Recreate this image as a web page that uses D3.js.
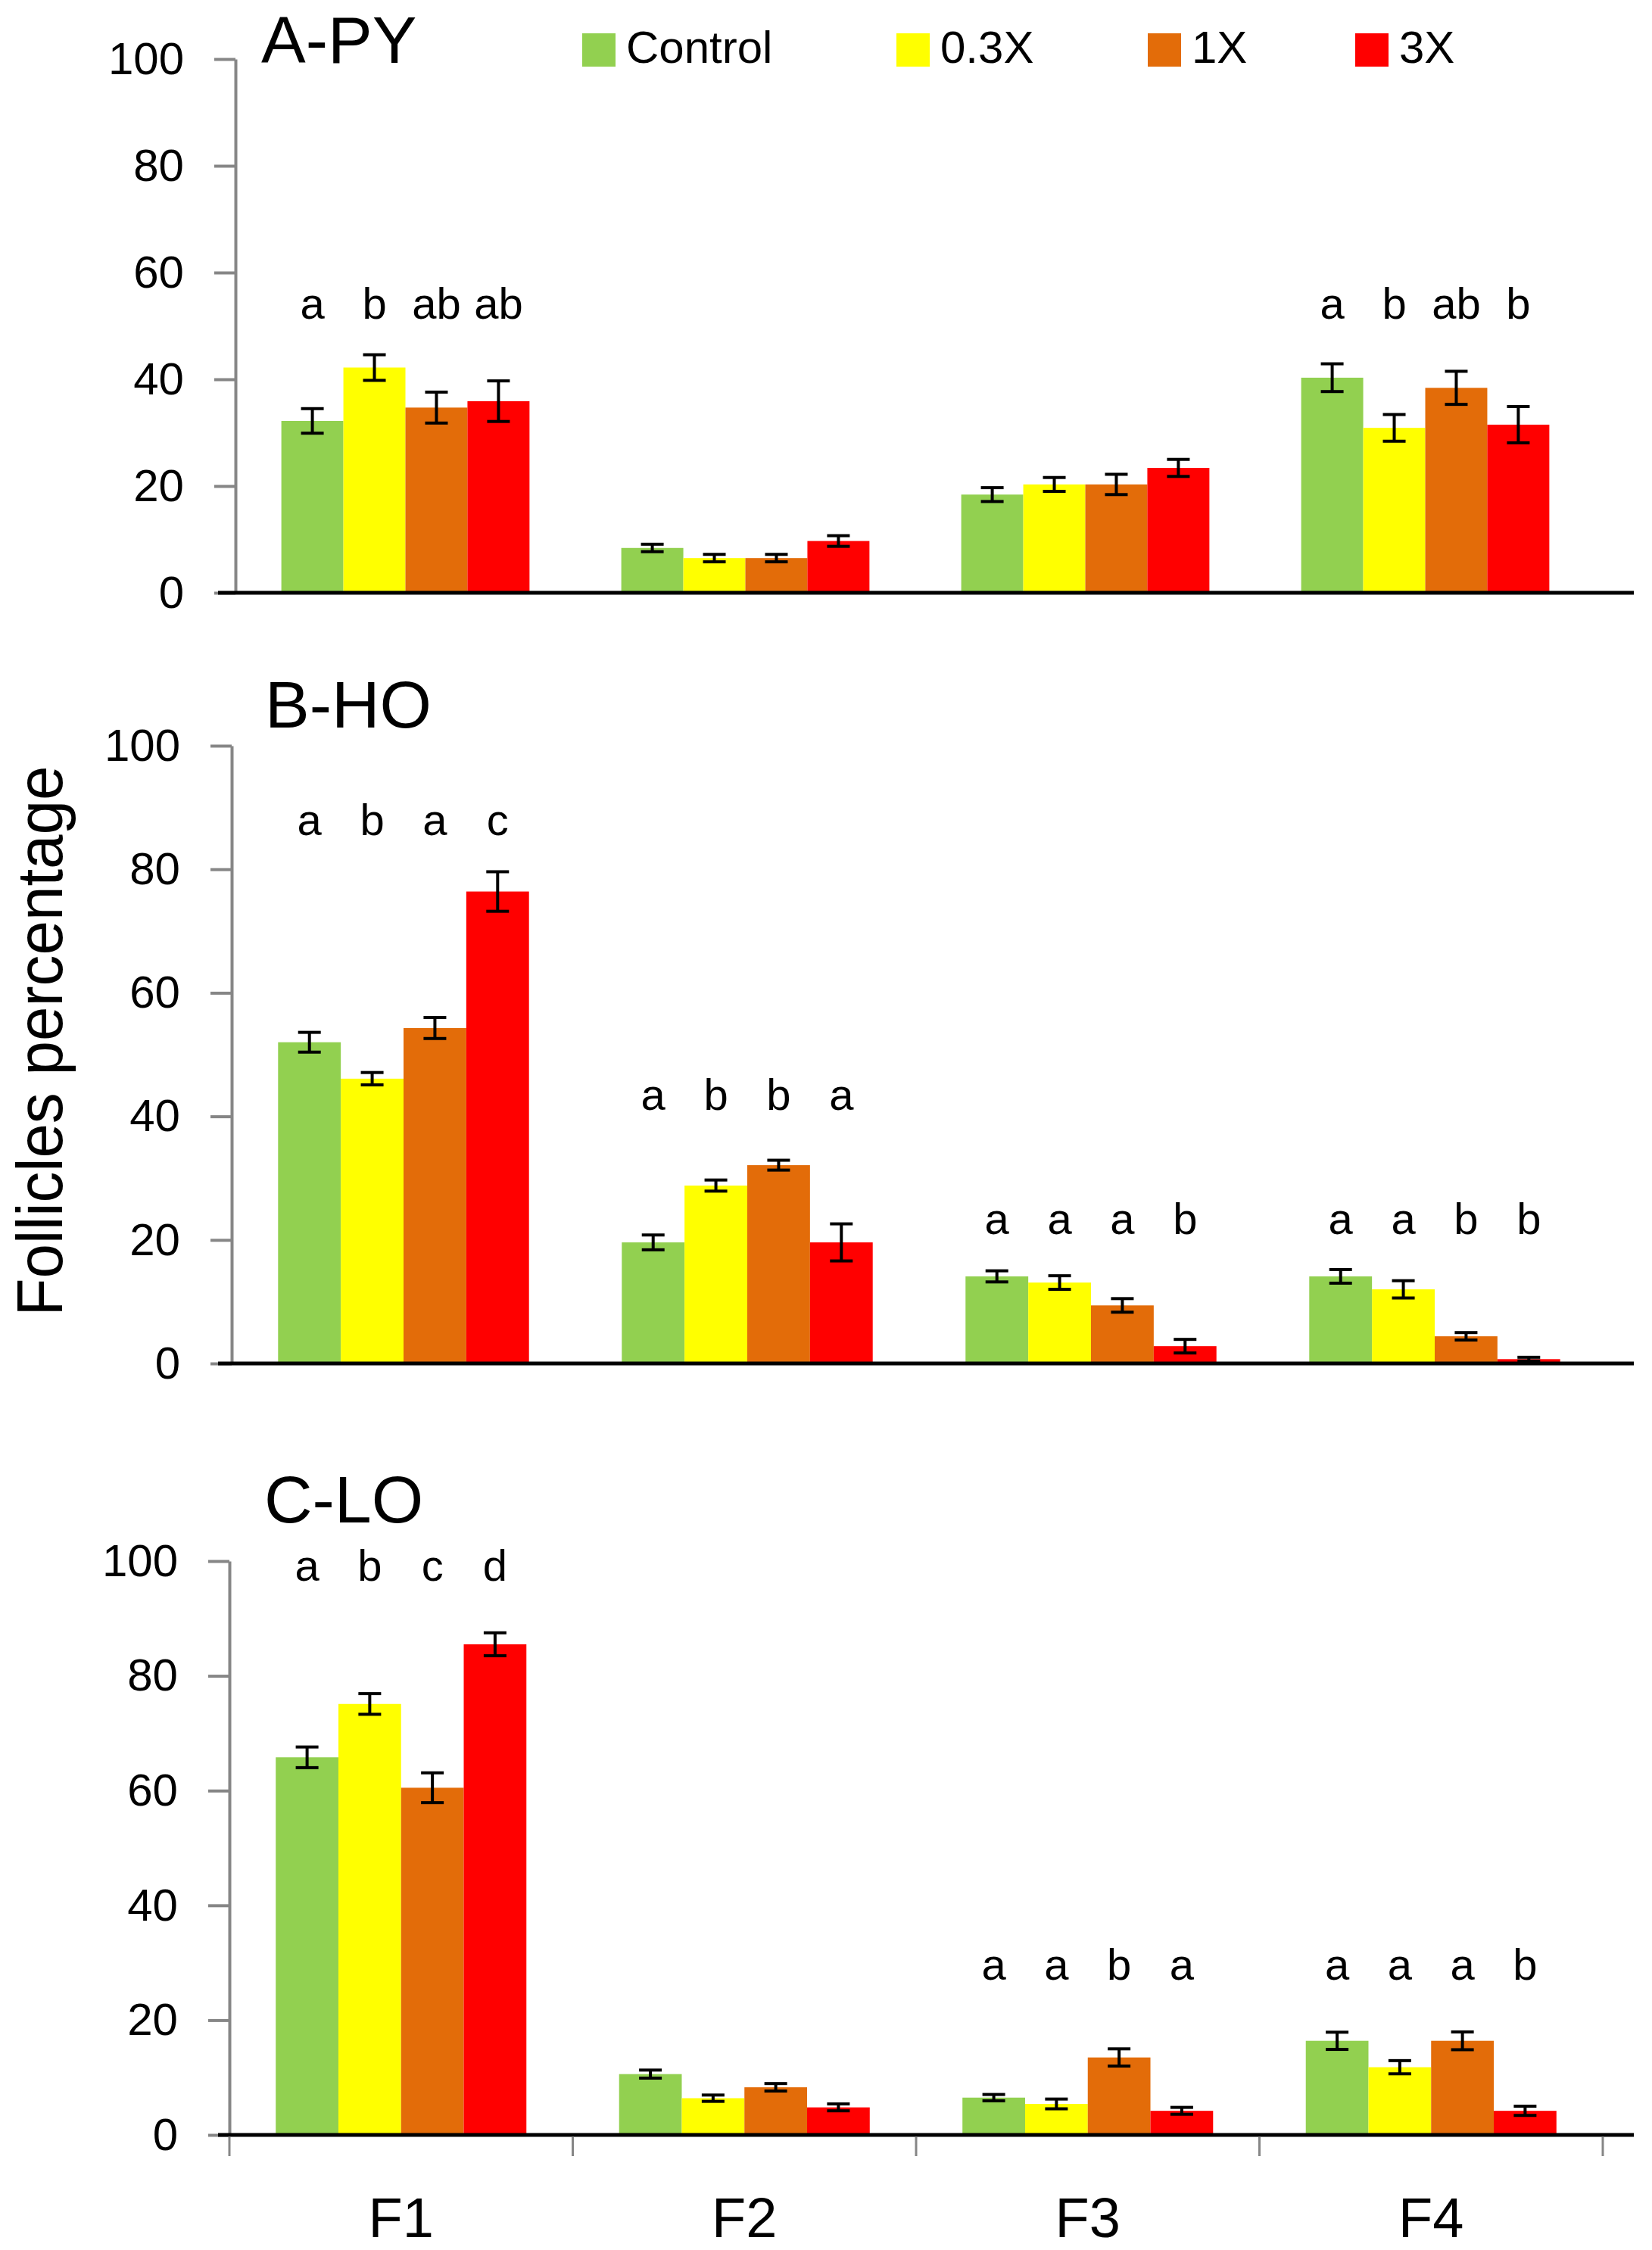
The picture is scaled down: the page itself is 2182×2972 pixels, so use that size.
<!DOCTYPE html>
<html lang="en">
<head>
<meta charset="utf-8">
<title>Follicles percentage</title>
<script src="https://cdn.jsdelivr.net/npm/d3@7"></script>
<style>
  body { margin: 0; background: #fff; }
  text { font-family: "Liberation Sans", Arial, sans-serif; fill: #000; }
</style>
</head>
<body>
<div id="chart"></div>
<script>
// categories and series
const categories = ["F1", "F2", "F3", "F4"];
const series = ["Control", "0.3X", "1X", "3X"];
const yTicks = [0, 20, 40, 60, 80, 100];

// A-PY : means / errors per category (Control, 0.3X, 1X, 3X)
const meanPY = [[32.2, 42.2, 34.7, 35.9], [8.4, 6.5, 6.5, 9.7], [18.4, 20.3, 20.3, 23.4], [40.3, 30.9, 38.4, 31.5]];
const errPY  = [[2.3, 2.4, 2.9, 3.8], [0.7, 0.7, 0.7, 1.0], [1.3, 1.3, 1.9, 1.6], [2.6, 2.5, 3.1, 3.4]];
const lettersPY = [["a", "b", "ab", "ab"], [], [], ["a", "b", "ab", "b"]];
const levelPY = [51.3, null, null, 51.3];

// B-HO
const meanHO = [[52.0, 46.1, 54.3, 76.4], [19.6, 28.8, 32.1, 19.6], [14.1, 13.1, 9.4, 2.8], [14.1, 12.0, 4.4, 0.7]];
const errHO  = [[1.6, 1.0, 1.7, 3.2], [1.2, 0.9, 0.8, 3.0], [0.9, 1.1, 1.1, 1.1], [1.1, 1.4, 0.6, 0.3]];
const lettersHO = [["a", "b", "a", "c"], ["a", "b", "b", "a"], ["a", "a", "a", "b"], ["a", "a", "b", "b"]];
const levelHO = [85.5, 41.0, 20.9, 20.9];

// C-LO
const meanLO = [[65.8, 75.1, 60.5, 85.5], [10.6, 6.4, 8.3, 4.8], [6.5, 5.4, 13.5, 4.2], [16.4, 11.8, 16.4, 4.2]];
const errLO  = [[1.8, 1.8, 2.6, 2.0], [0.7, 0.55, 0.65, 0.6], [0.55, 0.85, 1.5, 0.6], [1.5, 1.15, 1.55, 0.8]];
const lettersLO = [["a", "b", "c", "d"], [], ["a", "a", "b", "a"], ["a", "a", "a", "b"]];
const levelLO = [96.6, null, 27.0, 27.0];

const colors = ["#92d050", "#ffff00", "#e36c09", "#ff0000"];
const W = 2182, H = 2972;

const panels = [
  {title: "A-PY", mean: meanPY, err: errPY, letters: lettersPY, level: levelPY,
   x0: 311, x1: 2107, yTop: 78, yBot: 783, tx: 345, ty: 83, xAxis: false},
  {title: "B-HO", mean: meanHO, err: errHO, letters: lettersHO, level: levelHO,
   x0: 306, x1: 2122, yTop: 985, yBot: 1801, tx: 350, ty: 961, xAxis: false},
  {title: "C-LO", mean: meanLO, err: errLO, letters: lettersLO, level: levelLO,
   x0: 303, x1: 2117, yTop: 2062, yBot: 2820, tx: 349, ty: 2011, xAxis: true}
];

const svg = d3.select("#chart").append("svg")
  .attr("width", W).attr("height", H);

panels.forEach(p => {
  const g = svg.append("g");

  const x = d3.scaleBand().domain(categories).range([p.x0, p.x1])
    .paddingInner(0.27).paddingOuter(0.135);
  const xs = d3.scaleBand().domain(series).range([0, x.bandwidth()]);
  const y = d3.scaleLinear().domain([0, 100]).range([p.yBot, p.yTop]);

  // y axis
  const yAxis = g.append("g")
    .attr("transform", `translate(${p.x0},0)`)
    .call(d3.axisLeft(y).tickValues(yTicks).tickSize(28).tickPadding(40).tickSizeOuter(0));
  yAxis.select(".domain").attr("stroke", "#868686").attr("stroke-width", 4);
  yAxis.selectAll(".tick line").attr("stroke", "#868686").attr("stroke-width", 4);
  yAxis.selectAll(".tick text")
    .attr("font-family", "Liberation Sans, Arial, sans-serif")
    .attr("font-size", 60).attr("fill", "#000");

  // bars
  const rows = [];
  categories.forEach((c, i) => series.forEach((s, j) => {
    rows.push({c: c, s: s, j: j, v: p.mean[i][j], e: p.err[i][j]});
  }));

  g.selectAll("rect.bar").data(rows).join("rect")
    .attr("class", "bar")
    .attr("x", d => x(d.c) + xs(d.s))
    .attr("y", d => y(d.v))
    .attr("width", xs.bandwidth())
    .attr("height", d => y(0) - y(d.v))
    .attr("fill", d => colors[d.j]);

  // error bars
  const cap = 15;
  const eb = g.selectAll("g.err").data(rows).join("g").attr("class", "err")
    .attr("stroke", "#000").attr("stroke-width", 4);
  eb.append("line")
    .attr("x1", d => x(d.c) + xs(d.s) + xs.bandwidth() / 2)
    .attr("x2", d => x(d.c) + xs(d.s) + xs.bandwidth() / 2)
    .attr("y1", d => y(d.v + d.e)).attr("y2", d => y(Math.max(0, d.v - d.e)));
  [1, -1].forEach(sign => {
    eb.append("line")
      .attr("x1", d => x(d.c) + xs(d.s) + xs.bandwidth() / 2 - cap)
      .attr("x2", d => x(d.c) + xs(d.s) + xs.bandwidth() / 2 + cap)
      .attr("y1", d => y(Math.max(0, d.v + sign * d.e)))
      .attr("y2", d => y(Math.max(0, d.v + sign * d.e)));
  });

  // significance letters
  const lab = [];
  categories.forEach((c, i) => p.letters[i].forEach((t, j) => {
    lab.push({c: c, s: series[j], t: t, lv: p.level[i]});
  }));
  g.selectAll("text.sig").data(lab).join("text")
    .attr("class", "sig")
    .attr("x", d => x(d.c) + xs(d.s) + xs.bandwidth() / 2)
    .attr("y", d => y(d.lv))
    .attr("text-anchor", "middle")
    .attr("font-size", 58)
    .text(d => d.t);

  // black baseline
  g.append("line")
    .attr("x1", 288).attr("x2", 2158)
    .attr("y1", y(0)).attr("y2", y(0))
    .attr("stroke", "#000").attr("stroke-width", 5);

  // panel title
  g.append("text").attr("x", p.tx).attr("y", p.ty)
    .attr("font-size", 88).text(p.title);

  if (p.xAxis) {
    const step = x.step();
    const bounds = d3.range(categories.length + 1).map(i => p.x0 + i * step);
    g.selectAll("line.ctick").data(bounds).join("line")
      .attr("class", "ctick")
      .attr("x1", d => d).attr("x2", d => d)
      .attr("y1", y(0) + 2).attr("y2", y(0) + 28)
      .attr("stroke", "#868686").attr("stroke-width", 3);
    g.selectAll("text.cat").data(categories).join("text")
      .attr("class", "cat")
      .attr("x", d => x(d) + x.bandwidth() / 2)
      .attr("y", 2955)
      .attr("text-anchor", "middle")
      .attr("font-size", 74)
      .text(d => d);
  }
});

// legend
const legX = [769, 1184, 1516, 1790];
const leg = svg.append("g");
series.forEach((s, i) => {
  leg.append("rect").attr("x", legX[i]).attr("y", 44)
    .attr("width", 44).attr("height", 44).attr("fill", colors[i]);
  leg.append("text").attr("x", legX[i] + 58).attr("y", 83)
    .attr("font-size", 60).text(s);
});

// y axis title
svg.append("text")
  .attr("transform", "translate(82,1375) rotate(-90)")
  .attr("text-anchor", "middle")
  .attr("font-size", 86)
  .attr("textLength", 727)
  .attr("lengthAdjust", "spacingAndGlyphs")
  .text("Follicles percentage");
</script>
</body>
</html>
